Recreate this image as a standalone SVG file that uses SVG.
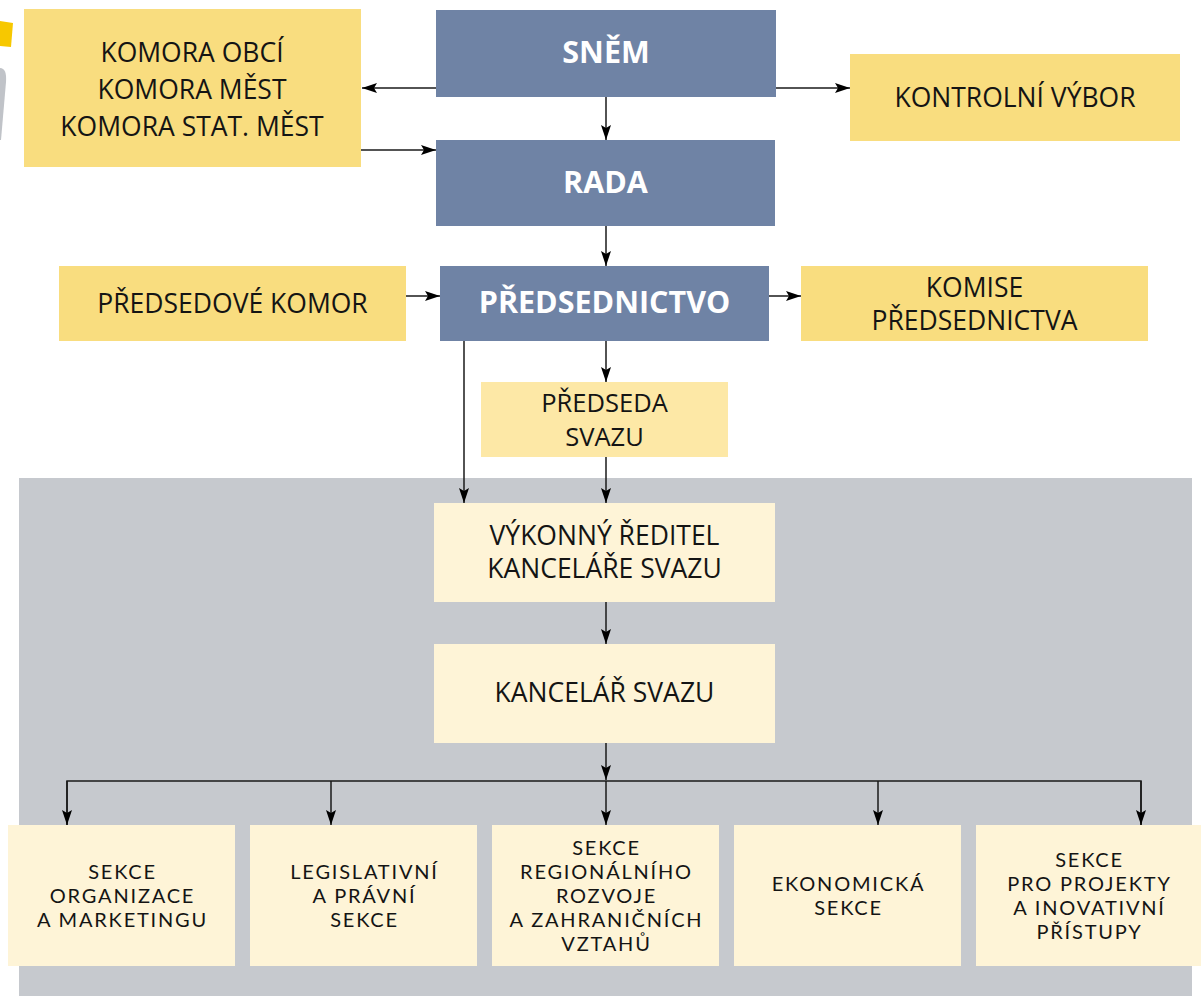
<svg xmlns="http://www.w3.org/2000/svg" width="1201" height="996" viewBox="0 0 1201 996">
<style>
.t{font-family:"Open Sans","Noto Sans","Liberation Sans",sans-serif;font-size:26.5px;fill:#141414;text-anchor:middle}
.s{font-family:Lato,"Open Sans","Liberation Sans",sans-serif;font-size:20px;letter-spacing:1.8px;fill:#141414;text-anchor:middle}
.b{font-family:"Open Sans","Noto Sans","Liberation Sans",sans-serif;font-size:30.5px;font-weight:bold;fill:#ffffff;text-anchor:middle}
.navy{fill:#6f83a5}
.yel{fill:#f9dd7f}
.lyel{fill:#fde8a6}
.cream{fill:#fef4d7}
.c{stroke:#1a1a1a;stroke-width:1.5;fill:none}
.ca{stroke:#1a1a1a;stroke-width:1.5;fill:none;marker-end:url(#ah)}
</style>
<defs>
<marker id="ah" markerUnits="userSpaceOnUse" markerWidth="15" markerHeight="10" refX="15" refY="5" orient="auto">
<path d="M0,0 L15,5 L0,10 L3,5 Z" fill="#000"/>
</marker>
</defs>
<rect width="1201" height="996" fill="#ffffff"/>
<g id="decor">
<path d="M0,21 L13,23 L11,47 L0,46 Z" fill="#f7c800"/>
<path d="M0,68 Q7,68 6,82 L1,140 L0,140 Z" fill="#c0c3c8"/>
</g>
<rect id="panel" x="19" y="478" width="1173" height="518" fill="#c6c9ce"/>
<g id="snem"><rect class="navy" x="436" y="10" width="340" height="87"/><text class="b" x="606" y="63">SNĚM</text></g>
<g id="komory"><rect class="yel" x="24" y="9" width="337" height="158"/><text class="t" x="192" y="62">KOMORA OBCÍ</text><text class="t" x="192" y="99">KOMORA MĚST</text><text class="t" x="192" y="136">KOMORA STAT. MĚST</text></g>
<g id="kontrolni"><rect class="yel" x="850" y="54" width="330" height="87"/><text class="t" x="1015" y="107">KONTROLNÍ VÝBOR</text></g>
<g id="rada"><rect class="navy" x="436" y="140" width="339" height="86"/><text class="b" x="605.5" y="193">RADA</text></g>
<g id="predsedove"><rect class="yel" x="59" y="266" width="347" height="75"/><text class="t" x="232.5" y="313">PŘEDSEDOVÉ KOMOR</text></g>
<g id="predsednictvo"><rect class="navy" x="440" y="266" width="329" height="75"/><text class="b" x="604.5" y="313">PŘEDSEDNICTVO</text></g>
<g id="komise"><rect class="yel" x="801" y="266" width="347" height="75"/><text class="t" x="974.5" y="297">KOMISE</text><text class="t" x="974.5" y="330">PŘEDSEDNICTVA</text></g>
<g id="predseda"><rect class="lyel" x="481" y="382" width="247" height="75"/><text class="t" x="604.5" y="412" style="font-size:25.5px">PŘEDSEDA</text><text class="t" x="604.5" y="446" style="font-size:25.5px">SVAZU</text></g>
<g id="reditel"><rect class="cream" x="434" y="503" width="341" height="99"/><text class="t" x="604.5" y="545">VÝKONNÝ ŘEDITEL</text><text class="t" x="604.5" y="578">KANCELÁŘE SVAZU</text></g>
<g id="kancelar"><rect class="cream" x="434" y="644" width="341" height="99"/><text class="t" x="604.5" y="702">KANCELÁŘ SVAZU</text></g>
<g id="sekce1"><rect class="cream" x="8" y="825" width="227" height="141"/><text class="s" x="122.5" y="879">SEKCE</text><text class="s" x="122.5" y="903">ORGANIZACE</text><text class="s" x="122.5" y="927">A MARKETINGU</text></g>
<g id="sekce2"><rect class="cream" x="250" y="825" width="227" height="141"/><text class="s" x="364.5" y="879">LEGISLATIVNÍ</text><text class="s" x="364.5" y="903">A PRÁVNÍ</text><text class="s" x="364.5" y="927">SEKCE</text></g>
<g id="sekce3"><rect class="cream" x="492" y="825" width="227" height="141"/><text class="s" x="606.5" y="855">SEKCE</text><text class="s" x="606.5" y="879">REGIONÁLNÍHO</text><text class="s" x="606.5" y="903">ROZVOJE</text><text class="s" x="606.5" y="927">A ZAHRANIČNÍCH</text><text class="s" x="606.5" y="951">VZTAHŮ</text></g>
<g id="sekce4"><rect class="cream" x="734" y="825" width="227" height="141"/><text class="s" x="848.5" y="891">EKONOMICKÁ</text><text class="s" x="848.5" y="915">SEKCE</text></g>
<g id="sekce5"><rect class="cream" x="976" y="825" width="225" height="141"/><text class="s" x="1089.5" y="867">SEKCE</text><text class="s" x="1089.5" y="891">PRO PROJEKTY</text><text class="s" x="1089.5" y="915">A INOVATIVNÍ</text><text class="s" x="1089.5" y="939">PŘÍSTUPY</text></g>
<g id="connectors">
<line class="ca" x1="436" y1="88" x2="362" y2="88"/>
<line class="ca" x1="776" y1="88" x2="850" y2="88"/>
<line class="ca" x1="606" y1="97" x2="606" y2="140"/>
<line class="ca" x1="361" y1="150" x2="436" y2="150"/>
<line class="ca" x1="606" y1="226" x2="606" y2="266"/>
<line class="ca" x1="406" y1="296" x2="440" y2="296"/>
<line class="ca" x1="769" y1="296" x2="801" y2="296"/>
<line class="ca" x1="606" y1="341" x2="606" y2="382"/>
<line class="ca" x1="464" y1="341" x2="464" y2="503"/>
<line class="ca" x1="606" y1="457" x2="606" y2="503"/>
<line class="ca" x1="606" y1="602" x2="606" y2="644"/>
<line class="ca" x1="606" y1="743" x2="606" y2="780"/>
<polyline class="c" points="67,825 67,781 1141,781 1141,825"/>
<line class="ca" x1="67" y1="781" x2="67" y2="825"/>
<line class="ca" x1="331" y1="781" x2="331" y2="825"/>
<line class="ca" x1="606" y1="781" x2="606" y2="825"/>
<line class="ca" x1="878" y1="781" x2="878" y2="825"/>
<line class="ca" x1="1141" y1="781" x2="1141" y2="825"/>
</g>
</svg>
